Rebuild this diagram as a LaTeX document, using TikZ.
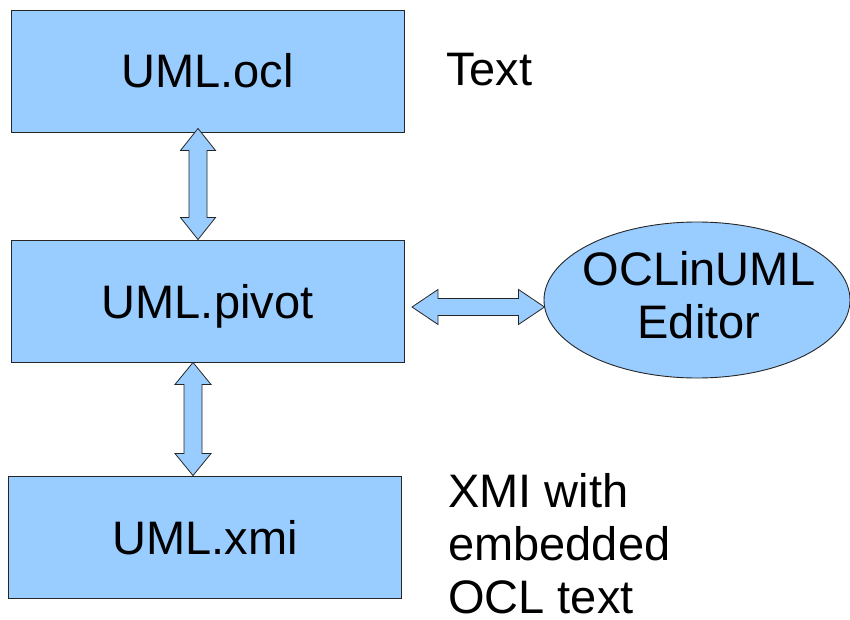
\documentclass[tikz,border=0pt]{standalone}
\usepackage{fontspec}
\setmainfont{Liberation Sans}
\usetikzlibrary{calc}
\definecolor{boxblue}{HTML}{99CCFF}
\tikzset{
  box/.style={draw=black!85, fill=boxblue, line width=0.9pt, rectangle,
    minimum width=393, minimum height=122, inner sep=0pt,
    font=\fontsize{47}{53}\selectfont, text height=34pt, text depth=0pt},
  ellshape/.style={draw=black!85, fill=boxblue, line width=0.9pt},
  plain/.style={font=\fontsize{47}{53}\selectfont, inner sep=0pt, align=left},
  dblarrow/.style={draw=black!85, fill=boxblue, line width=0.8pt, line join=miter}
}
\begin{document}
\begin{tikzpicture}[x=1pt,y=-1pt]
\useasboundingbox (0,0) rectangle (850,620);
\node[box] (ocl) at (207.5,71) {UML.ocl};
\node[box] (pivot) at (207.5,301) {UML.pivot};
\node[box] (xmi) at (205,537) {UML.xmi};
\coordinate (edc) at (697,300);
\draw[ellshape] (edc) ellipse [x radius=153, y radius=78];
\node[plain, align=center, anchor=base] (ed) at (699,338) {OCLinUML\\Editor};
\node[plain, anchor=base west] (txt) at (446,86) {Text};
\node[plain, anchor=base west, text depth=0pt] (xt) at (448,613) {XMI with\\embedded\\OCL text};
% vertical arrow ocl <-> pivot
\coordinate (a1) at (ocl.south -| 198,0);
\coordinate (a2) at (pivot.north -| 198,0);
\draw[dblarrow] ($(a1)+(0,-4)$) -- ++(17.5,22) -- ++(-8.5,0) -- ($(a2)+(9,-22)$) -- ++(8.5,0) -- (a2) -- ++(-17.5,-22) -- ++(8.5,0) -- ($(a1)+(-9,18)$) -- ++(-8.5,0) -- cycle;
% vertical arrow pivot <-> xmi
\coordinate (b1) at (pivot.south -| 193,0);
\coordinate (b2) at (xmi.north -| 193,0);
\draw[dblarrow] (b1) -- ++(18,22) -- ++(-9,0) -- ($(b2)+(9,-22)$) -- ++(9,0) -- (b2) -- ++(-18,-22) -- ++(9,0) -- ($(b1)+(-9,22)$) -- ++(-9,0) -- cycle;
% horizontal arrow pivot <-> editor
\coordinate (c1) at (412,307);
\coordinate (c2) at ($(edc)+(-152.5,7)$);
\draw[dblarrow] (c1) -- ++(26,-17.5) -- ++(0,9) -- ($(c2)+(-26,-8.5)$) -- ++(0,-9) -- (c2) -- ++(-26,17.5) -- ++(0,-9) -- ($(c1)+(26,8.5)$) -- ++(0,9) -- cycle;
\end{tikzpicture}
\end{document}
